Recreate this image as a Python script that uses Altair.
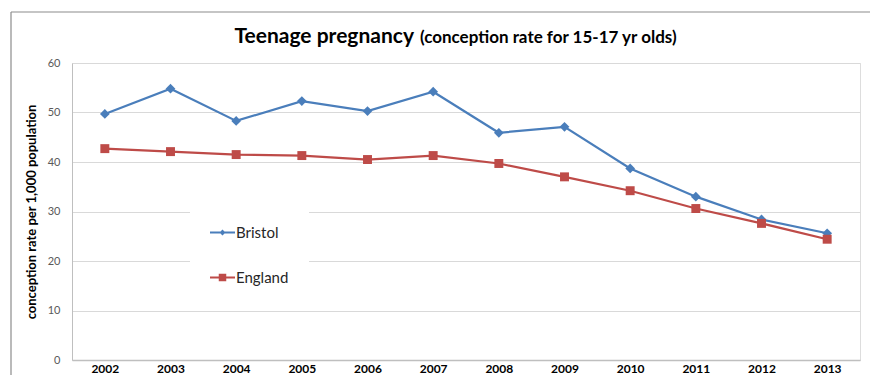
import altair as alt
import pandas as pd

years = [str(y) for y in range(2002, 2014)]
bristol = [49.7, 54.8, 48.3, 52.3, 50.3, 54.2, 45.9, 47.1, 38.7, 33.0, 28.4, 25.6]
england = [42.7, 42.1, 41.5, 41.3, 40.5, 41.3, 39.7, 37.0, 34.2, 30.6, 27.6, 24.4]
series_names = ["Bristol", "England"]
series_colors = ["#4A7EBB", "#BE4B48"]
series_shapes = ["diamond", "square"]
series_sizes = [95, 80]
legend_paths = [
    "M-2.5,-0.2H2.5V0.2H-2.5Z M0,-0.6L0.6,0L0,0.6L-0.6,0Z",
    "M-2.5,-0.2H2.5V0.2H-2.5Z M-0.75,-0.75H0.75V0.75H-0.75Z",
]
title_main = "Teenage pregnancy"
title_sub = "(conception rate for 15-17 yr olds)"
y_title = "conception rate per 1,000 population"

FONT = "Lato"
W, H = 788, 297
PAD = {"left": 64, "top": 55, "right": 10, "bottom": 15}

df = pd.DataFrame({
    "year": years * 2,
    "rate": bristol + england,
    "series": [series_names[0]] * len(years) + [series_names[1]] * len(years),
})

x_enc = alt.X(
    "year:O",
    sort=years,
    axis=alt.Axis(
        title=None, labelAngle=0, labelFont=FONT, labelFontWeight="bold",
        labelFontSize=12, labelColor="#000000", labelPadding=3, ticks=False,
        domainColor="#BFBFBF", domainWidth=1.5, grid=False,
    ),
)
y_enc = alt.Y(
    "rate:Q",
    scale=alt.Scale(domain=[0, 60], nice=False),
    axis=alt.Axis(
        title=y_title, values=[0, 10, 20, 30, 40, 50, 60], labelFont=FONT,
        labelFontSize=11, labelColor="#595959", labelPadding=12, ticks=False,
        domainColor="#BFBFBF", gridColor="#D9D9D9", gridWidth=1,
        titleFont=FONT, titleFontSize=13, titleFontWeight="bold",
        titleColor="#000000", titlePadding=9,
    ),
)

base = alt.Chart(df)
one = pd.DataFrame({"a": [0]})
layers = []

# frame lines (top and left) around the chart, kept inside the drawing
layers.append(alt.Chart(one).mark_rule(stroke="#8C8C8C", strokeWidth=1.2).encode(
    x=alt.value(-61), x2=alt.value(W + PAD["right"]), y=alt.value(-51)))
layers.append(alt.Chart(one).mark_rule(stroke="#8C8C8C", strokeWidth=1.2).encode(
    x=alt.value(-61), y=alt.value(-51), y2=alt.value(H + PAD["bottom"])))

for name, color, shape, size in zip(series_names, series_colors, series_shapes, series_sizes):
    sub = base.transform_filter(alt.datum.series == name)
    layers.append(sub.mark_line(color=color, strokeWidth=2.2).encode(x=x_enc, y=y_enc))
    layers.append(sub.mark_point(color=color, filled=True, opacity=1, shape=shape, size=size).encode(x=x_enc, y=y_enc))

leg = alt.Legend(
    orient="none", legendX=118, legendY=142, fillColor="white", padding=20,
    title=None, labelFont=FONT, labelFontSize=15, labelColor="#262626",
    symbolSize=100, symbolOffset=5, labelOffset=6, rowPadding=29,
    symbolStrokeWidth=0,
)
legend_layer = base.transform_filter("false").mark_point(filled=True, opacity=1).encode(
    x=x_enc, y=y_enc,
    color=alt.Color("series:N", scale=alt.Scale(domain=series_names, range=series_colors), legend=leg),
    shape=alt.Shape("series:N", scale=alt.Scale(domain=series_names, range=legend_paths), legend=leg),
)
layers.append(legend_layer)

t1 = alt.Chart(pd.DataFrame({"t": [title_main]})).mark_text(
    font=FONT, fontSize=21, fontWeight="bold", align="right", baseline="alphabetic", color="#000000"
).encode(text="t:N", x=alt.value(342), y=alt.value(-20))
t2 = alt.Chart(pd.DataFrame({"t": [title_sub]})).mark_text(
    font=FONT, fontSize=17, fontWeight="bold", align="left", baseline="alphabetic", color="#000000"
).encode(text="t:N", x=alt.value(348), y=alt.value(-20))
layers += [t1, t2]

chart = alt.layer(*layers).properties(
    width=W, height=H,
    autosize=alt.AutoSizeParams(type="none"),
    padding=PAD,
).configure_view(stroke=None).configure(background="white")

chart.save("out.html", embed_options={"renderer": "svg", "actions": False})
